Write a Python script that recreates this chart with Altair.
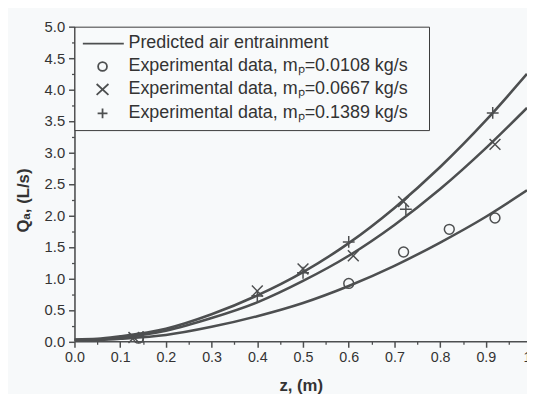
import altair as alt
import pandas as pd

# ---- data ----
z_curve = [0.0, 0.05, 0.10, 0.20, 0.30, 0.40, 0.50, 0.60, 0.70, 0.80, 0.90, 0.99]
q_pred_high = [0.03, 0.04, 0.08, 0.20, 0.43, 0.73, 1.10, 1.56, 2.12, 2.77, 3.51, 4.25]
q_pred_mid = [0.02, 0.03, 0.06, 0.17, 0.37, 0.62, 0.96, 1.36, 1.85, 2.42, 3.07, 3.71]
q_pred_low = [0.02, 0.02, 0.04, 0.10, 0.23, 0.40, 0.61, 0.88, 1.20, 1.57, 1.98, 2.40]

series_labels = [
    "Predicted air entrainment",
    "Experimental data, mₚ=0.0108 kg/s",
    "Experimental data, mₚ=0.0667 kg/s",
    "Experimental data, mₚ=0.1389 kg/s",
]

z_exp_low = [0.14, 0.60, 0.72, 0.82, 0.92]
q_exp_low = [0.05, 0.92, 1.42, 1.78, 1.96]
z_exp_mid = [0.13, 0.40, 0.50, 0.61, 0.72, 0.92]
q_exp_mid = [0.06, 0.80, 1.15, 1.36, 2.22, 3.13]
z_exp_high = [0.15, 0.40, 0.50, 0.60, 0.725, 0.915]
q_exp_high = [0.07, 0.72, 1.09, 1.58, 2.10, 3.63]

x_major = [0.0, 0.1, 0.2, 0.3, 0.4, 0.5, 0.6, 0.7, 0.8, 0.9, 0.99]
x_minor = [0.05, 0.15, 0.25, 0.35, 0.45, 0.55, 0.65, 0.75, 0.85, 0.95]
y_major = [0.0, 0.5, 1.0, 1.5, 2.0, 2.5, 3.0, 3.5, 4.0, 4.5, 5.0]
y_minor = [0.25, 0.75, 1.25, 1.75, 2.25, 2.75, 3.25, 3.75, 4.25, 4.75]

# ---- tables ----
curves = pd.concat([
    pd.DataFrame({"z": z_curve, "q": q_pred_low, "curve": "low"}),
    pd.DataFrame({"z": z_curve, "q": q_pred_mid, "curve": "mid"}),
    pd.DataFrame({"z": z_curve, "q": q_pred_high, "curve": "high"}),
])
points = pd.concat([
    pd.DataFrame({"z": z_exp_low, "q": q_exp_low, "series": series_labels[1]}),
    pd.DataFrame({"z": z_exp_mid, "q": q_exp_mid, "series": series_labels[2]}),
    pd.DataFrame({"z": z_exp_high, "q": q_exp_high, "series": series_labels[3]}),
])

INK = "#4d4f50"
TXT = "#333333"
FONT = "Liberation Sans"

xs = alt.Scale(domain=[0, 0.99], nice=False, zero=False)
ys = alt.Scale(domain=[0, 5], nice=False, zero=False)

major_x_axis = alt.Axis(
    values=x_major,
    labelExpr="datum.value > 0.98 ? '1\u00a0\u00a0' : format(datum.value, '.1f')",
    tickSize=6, tickWidth=1.5, tickColor=INK,
    tickOpacity={"condition": {"test": "datum.value > 0.98", "value": 0}, "value": 1},
    domainColor=INK, domainWidth=1.6, grid=False, labelFontSize=14.5,
    labelColor=TXT, labelFont=FONT, labelPadding=3, labelFlush=False,
    labelOverlap=False, title="z, (m)", titleFont=FONT, titleFontSize=17,
    titleFontWeight="bold", titleColor=TXT, titlePadding=14, orient="bottom",
)
major_y_axis = alt.Axis(
    values=y_major, format=".1f", tickSize=6, tickWidth=1.5, tickColor=INK,
    domainColor=INK, domainWidth=1.6, grid=False, labelFontSize=15,
    labelColor=TXT, labelFont=FONT, labelPadding=4, labelOverlap=False,
    title="Qₐ, (L/s)", titleFont=FONT, titleFontSize=17, titleFontWeight="bold",
    titleColor=TXT, titleX=-52, titleY=176, titleBaseline="middle",
    titleAlign="center", orient="left",
)
minor_x_axis = alt.Axis(
    values=x_minor, tickSize=3, tickWidth=1.3, tickColor=INK, labels=False,
    domain=False, grid=False, title=None, orient="bottom",
)
minor_y_axis = alt.Axis(
    values=y_minor, tickSize=3, tickWidth=1.3, tickColor=INK, labels=False,
    domain=False, grid=False, title=None, orient="left",
)

lines = alt.Chart(curves).mark_line(
    color=INK, strokeWidth=2.6, interpolate="monotone", clip=True
).encode(
    x=alt.X("z:Q", scale=xs, axis=major_x_axis),
    y=alt.Y("q:Q", scale=ys, axis=major_y_axis),
    detail="curve:N",
)

# marker glyphs (unit box = 10 px at size 100)
circle_path = "M-1,0A1,1 0 1,1 1,0A1,1 0 1,1 -1,0Z"
x_path = "M-1.1,-1.1L1.1,1.1M-1.1,1.1L1.1,-1.1"
plus_path = "M-1.2,0L1.2,0M0,-1.2L0,1.2"

pts = alt.Chart(points).mark_point(
    filled=False, color=INK, strokeWidth=1.5, opacity=1, size=100
).encode(
    x=alt.X("z:Q", scale=xs, axis=minor_x_axis),
    y=alt.Y("q:Q", scale=ys, axis=minor_y_axis),
    shape=alt.Shape(
        "series:N",
        scale=alt.Scale(domain=series_labels[1:],
                        range=[circle_path, x_path, plus_path]),
        legend=None,
    ),
)

# legend glyphs: line sample with markers centred beneath it
leg_line = "M-1.72,0L6.6,0"
leg_circle = "M1.38,0A0.9,0.9 0 1,1 3.18,0A0.9,0.9 0 1,1 1.38,0Z"
leg_x = "M1.08,-1.1L3.48,1.1M1.08,1.1L3.48,-1.1"
leg_plus = "M1.28,0L3.28,0M2.28,-1.0L2.28,1.0"

legend_layer = alt.Chart(points).mark_point(
    filled=False, color=INK, strokeWidth=1.5, opacity=0, size=100
).encode(
    x=alt.X("z:Q", scale=xs, axis=None),
    y=alt.Y("q:Q", scale=ys, axis=None),
    shape=alt.Shape(
        "series:N",
        scale=alt.Scale(domain=series_labels,
                        range=[leg_line, leg_circle, leg_x, leg_plus]),
        legend=alt.Legend(
            title="\u00a0", titleOrient="right", titlePadding=14,
            titleFontSize=10,
            orient="none", legendX=0, legendY=0,
            strokeColor="#3a3a3a", padding=8, fillColor="#f8fafb",
            labelFont=FONT, labelFontSize=18.2, labelColor=TXT,
            labelOffset=28.6, labelLimit=400, rowPadding=4.3,
            symbolStrokeColor=INK, symbolFillColor="transparent",
            symbolStrokeWidth=1.8, symbolOpacity=1, symbolSize=100,
        ),
    ),
)

chart = alt.layer(lines, pts, legend_layer).resolve_axis(
    x="independent", y="independent"
).resolve_scale(shape="independent").properties(
    width=459.5,
    height=319.5,
    autosize=alt.AutoSizeParams(type="none"),
    padding={"left": 67.5, "top": 16, "right": 0, "bottom": 50},
    background="#f7f9fa",
).configure_view(stroke=None)

chart.save("out.html", embed_options={"renderer": "svg", "actions": False})
